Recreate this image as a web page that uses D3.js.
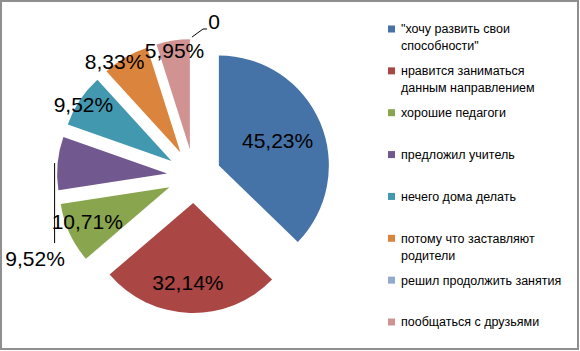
<!DOCTYPE html>
<html>
<head>
<meta charset="utf-8">
<script src="https://cdn.jsdelivr.net/npm/d3@7"></script>
<style>
  body { margin: 0; background: #fff; }
  svg { display: block; }
  .pct { font-family: "Liberation Sans", Arial, sans-serif; font-size: 21px; fill: #000; }
  .legend text { font-family: "Liberation Sans", Arial, sans-serif; font-size: 12.5px; fill: #000; }
</style>
</head>
<body>
<div id="chart"></div>
<script>
// Chart data
const categories = [
  ['"хочу развить свои', 'способности"'],
  ['нравится заниматься', 'данным направлением'],
  ['хорошие педагоги'],
  ['предложил учитель'],
  ['нечего дома делать'],
  ['потому что заставляют', 'родители'],
  ['решил продолжить занятия'],
  ['пообщаться с друзьями']
];
const values = [45.23, 32.14, 10.71, 9.52, 9.52, 8.33, 0, 5.95];
const valueLabels = ['45,23%', '32,14%', '10,71%', '9,52%', '9,52%', '8,33%', '0', '5,95%'];
const colors = ['#4572A7', '#AA4643', '#89A54E', '#71588F', '#4198AF', '#DB843D', '#93A9CF', '#D09392'];

const width = 580;
const height = 351;
const center = { x: 194, y: 176 };
const radius = 110;
const explode = 27;
// label placement: distance from slice tip (fraction of radius) and angle shift (deg)
const labelDist = [0.58, 0.73, 0.81, 1.0, 0.95, 1.02, 1.0, 0.91];
const labelShift = [0, 2, 2, 0, -1, -6, 0, 0];

const svg = d3.select('#chart').append('svg')
  .attr('width', width)
  .attr('height', height);

// Chart border
svg.append('rect')
  .attr('x', 1).attr('y', 1)
  .attr('width', width - 3).attr('height', height - 3)
  .attr('fill', '#fff')
  .attr('stroke', '#8f8f8f')
  .attr('stroke-width', 2);

const pie = d3.pie().sort(null).value(d => d);
const arcs = pie(values);
const arc = d3.arc().innerRadius(0).outerRadius(radius);

function dir(a) { return [Math.sin(a), -Math.cos(a)]; }

const plot = svg.append('g')
  .attr('transform', `translate(${center.x},${center.y})`);

const slices = plot.selectAll('g.slice')
  .data(arcs)
  .join('g')
  .attr('class', 'slice')
  .attr('transform', d => {
    const [dx, dy] = dir((d.startAngle + d.endAngle) / 2);
    return `translate(${dx * explode},${dy * explode})`;
  });

slices.append('path')
  .attr('d', arc)
  .attr('fill', (d, i) => colors[i]);

// Data labels
slices.each(function(d, i) {
  const g = d3.select(this);
  const mid = (d.startAngle + d.endAngle) / 2;
  if (values[i] === 0) return;
  if (i === 3) {
    // purple label pulled out with a vertical leader line
    const [dx, dy] = dir(mid);
    const ox = dx * (radius + 3), oy = dy * (radius + 3);
    g.append('line')
      .attr('x1', ox).attr('y1', oy)
      .attr('x2', ox).attr('y2', oy + 80)
      .attr('stroke', '#000').attr('stroke-width', 1);
    g.append('text').attr('class', 'pct')
      .attr('x', ox - 19.5).attr('y', oy + 96)
      .attr('dy', '0.35em')
      .attr('text-anchor', 'middle')
      .text(valueLabels[i]);
  } else {
    const [dx, dy] = dir(mid + labelShift[i] * Math.PI / 180);
    const r = radius * labelDist[i];
    g.append('text').attr('class', 'pct')
      .attr('x', dx * r).attr('y', dy * r)
      .attr('dy', '0.35em')
      .attr('text-anchor', 'middle')
      .text(valueLabels[i]);
  }
});

// Zero-value label sits at the top of the pie with a small leader
arcs.forEach((d, i) => {
  if (values[i] !== 0) return;
  const [dx, dy] = dir(-0.014);
  const ox = dx * (radius + explode + 2), oy = dy * (radius + explode + 2);
  plot.append('path')
    .attr('d', `M${ox},${oy}L${ox + 11},${oy - 8}h4`)
    .attr('fill', 'none')
    .attr('stroke', '#000').attr('stroke-width', 1);
  plot.append('text').attr('class', 'pct')
    .attr('x', ox + 22).attr('y', oy - 15)
    .attr('dy', '0.35em')
    .attr('text-anchor', 'middle')
    .text(valueLabels[i]);
});

// Legend
const legendY = d3.scaleLinear().domain([0, categories.length - 1]).range([29, 322]);
const legend = svg.append('g').attr('class', 'legend');
const items = legend.selectAll('g')
  .data(categories)
  .join('g')
  .attr('transform', (d, i) => `translate(388,${legendY(i)})`);

items.append('rect')
  .attr('x', 0).attr('y', -3.5)
  .attr('width', 7).attr('height', 7)
  .attr('fill', (d, i) => colors[i]);

items.append('text')
  .attr('x', 13)
  .selectAll('tspan')
  .data(d => d)
  .join('tspan')
  .attr('x', 13)
  .attr('y', (d, j) => j * 17)
  .attr('dy', '0.35em')
  .text(d => d);
</script>
</body>
</html>
